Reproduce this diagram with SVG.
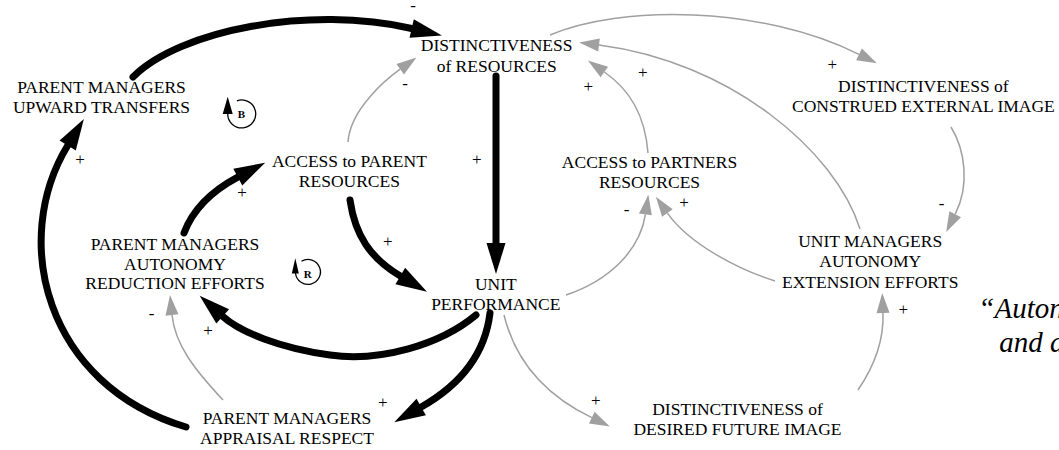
<svg xmlns="http://www.w3.org/2000/svg" width="1059" height="450" viewBox="0 0 1059 450">
<style>
  .n{font-family:"Liberation Serif","Times New Roman",serif;font-size:17.5px;fill:#000;text-anchor:middle}
  .s{font-family:"Liberation Serif","Times New Roman",serif;font-size:17px;fill:#000;text-anchor:middle}
  .lp{font-family:"Liberation Serif","Times New Roman",serif;font-size:11px;font-weight:bold;fill:#000;text-anchor:middle}
  .q{font-family:"Liberation Serif","Times New Roman",serif;font-size:29px;font-style:italic;fill:#000}
  .k{fill:none;stroke:#000;stroke-width:7;stroke-linecap:round;marker-end:url(#hk)}
  .g{fill:none;stroke:#a0a0a0;stroke-width:1.5;marker-end:url(#hg)}
  .lc{fill:none;stroke:#000;stroke-width:1.3}
</style>
<defs>
  <marker id="hk" markerUnits="userSpaceOnUse" markerWidth="32" markerHeight="20" refX="0" refY="9.5" orient="auto" overflow="visible">
    <path d="M0,0 L31,9.5 L0,19 z" fill="#000"/>
  </marker>
  <marker id="hg" markerUnits="userSpaceOnUse" markerWidth="21" markerHeight="14" refX="0" refY="6.5" orient="auto" overflow="visible">
    <path d="M0,0 L20,6.5 L0,13 z" fill="#a0a0a0"/>
  </marker>
</defs>
<rect width="1059" height="450" fill="#fff"/>
<g id="connectors">
  <path class="k" d="M133,77 C180,30 310,5 411.7,28.5"/>
  <path class="k" d="M496,76 L496,243"/>
  <path class="k" d="M350,200 C355,235 370,258 400.3,276"/>
  <path class="k" d="M184,233 C192,212 210,192 237.8,177.2"/>
  <path class="k" d="M476,315 C440,345 380,362 330,355 C280,348 240,332 222.7,316.4"/>
  <path class="k" d="M490,313 C485,355 460,385 421.2,407"/>
  <path class="k" d="M186,427 C45,385 10,240 67.7,145.5"/>
  <path class="g" d="M348,142 C350,110 385,80 400.2,69.2"/>
  <path class="g" d="M550,35 C620,5 760,5 859,54.4"/>
  <path class="g" d="M860,229 C835,150 730,62 599,45"/>
  <path class="g" d="M648,153 C645,115 630,90 604.3,72"/>
  <path class="g" d="M566,295 C610,280 640,250 645.4,214.4"/>
  <path class="g" d="M775,281 C740,270 690,245 667.4,213.1"/>
  <path class="g" d="M951,127 C965,150 970,185 955.2,214.2"/>
  <path class="g" d="M858,390 C875,365 884,340 883,313"/>
  <path class="g" d="M504,315 C515,360 545,395 591.8,417.7"/>
  <path class="g" d="M223,400 C195,370 175,345 172,315"/>
</g>
<g id="signs">
  <text class="s" x="413" y="10.5">-</text>
  <text class="s" x="476.7" y="164.5">+</text>
  <text class="s" x="387.7" y="247">+</text>
  <text class="s" x="242" y="197.5">+</text>
  <text class="s" x="208" y="336">+</text>
  <text class="s" x="382.7" y="408">+</text>
  <text class="s" x="80" y="165">+</text>
  <text class="s" x="405" y="88.6">-</text>
  <text class="s" x="832.3" y="70">+</text>
  <text class="s" x="642.7" y="78">+</text>
  <text class="s" x="588.3" y="92">+</text>
  <text class="s" x="626.7" y="215.3">-</text>
  <text class="s" x="684" y="208">+</text>
  <text class="s" x="941.7" y="208.6">-</text>
  <text class="s" x="903.3" y="314.5">+</text>
  <text class="s" x="595.7" y="405.5">+</text>
  <text class="s" x="151.7" y="318.6">-</text>
</g>
<g id="loop-B">
  <path class="lc" d="M236.9,100.8 A14,14 0 1 1 227.7,114"/>
  <path d="M222.7,114 L232.7,114 L227.7,96.7 z" fill="#000"/>
  <text class="lp" x="241.3" y="117.7">B</text>
</g>
<g id="loop-R">
  <path class="lc" d="M301.5,261.2 A12.5,12.5 0 1 1 295.5,273"/>
  <path d="M291.8,273.5 L298.8,273.5 L295.3,258.3 z" fill="#000"/>
  <text class="lp" x="307.8" y="278">R</text>
</g>
<g id="n-upward"><text class="n" x="101.5" y="93.3">PARENT MANAGERS</text><text class="n" x="101.5" y="113.3">UPWARD TRANSFERS</text></g>
<g id="n-dist-resources"><text class="n" x="496.7" y="51">DISTINCTIVENESS</text><text class="n" x="496.7" y="71.7">of RESOURCES</text></g>
<g id="n-access-parent"><text class="n" x="349.4" y="167.3">ACCESS to PARENT</text><text class="n" x="349.4" y="187">RESOURCES</text></g>
<g id="n-access-partners"><text class="n" x="649.5" y="167.7">ACCESS to PARTNERS</text><text class="n" x="649.5" y="187.7">RESOURCES</text></g>
<g id="n-construed"><text class="n" x="923.4" y="91.7">DISTINCTIVENESS of</text><text class="n" x="923.4" y="111.7">CONSTRUED EXTERNAL IMAGE</text></g>
<g id="n-reduction"><text class="n" x="175" y="250">PARENT MANAGERS</text><text class="n" x="175" y="269.5">AUTONOMY</text><text class="n" x="175" y="289.3">REDUCTION EFFORTS</text></g>
<g id="n-unit"><text class="n" x="495.8" y="290">UNIT</text><text class="n" x="495.8" y="310">PERFORMANCE</text></g>
<g id="n-extension"><text class="n" x="870.2" y="247.3">UNIT MANAGERS</text><text class="n" x="870.2" y="267.3">AUTONOMY</text><text class="n" x="870.2" y="287.7">EXTENSION EFFORTS</text></g>
<g id="n-appraisal"><text class="n" x="287" y="424">PARENT MANAGERS</text><text class="n" x="287" y="444">APPRAISAL RESPECT</text></g>
<g id="n-desired"><text class="n" x="737.5" y="415">DISTINCTIVENESS of</text><text class="n" x="737.5" y="434.5">DESIRED FUTURE IMAGE</text></g>
<g id="quote"><text class="q" x="978.3" y="317.5">“Auton</text><text class="q" x="999.3" y="352">and a</text></g>
</svg>
